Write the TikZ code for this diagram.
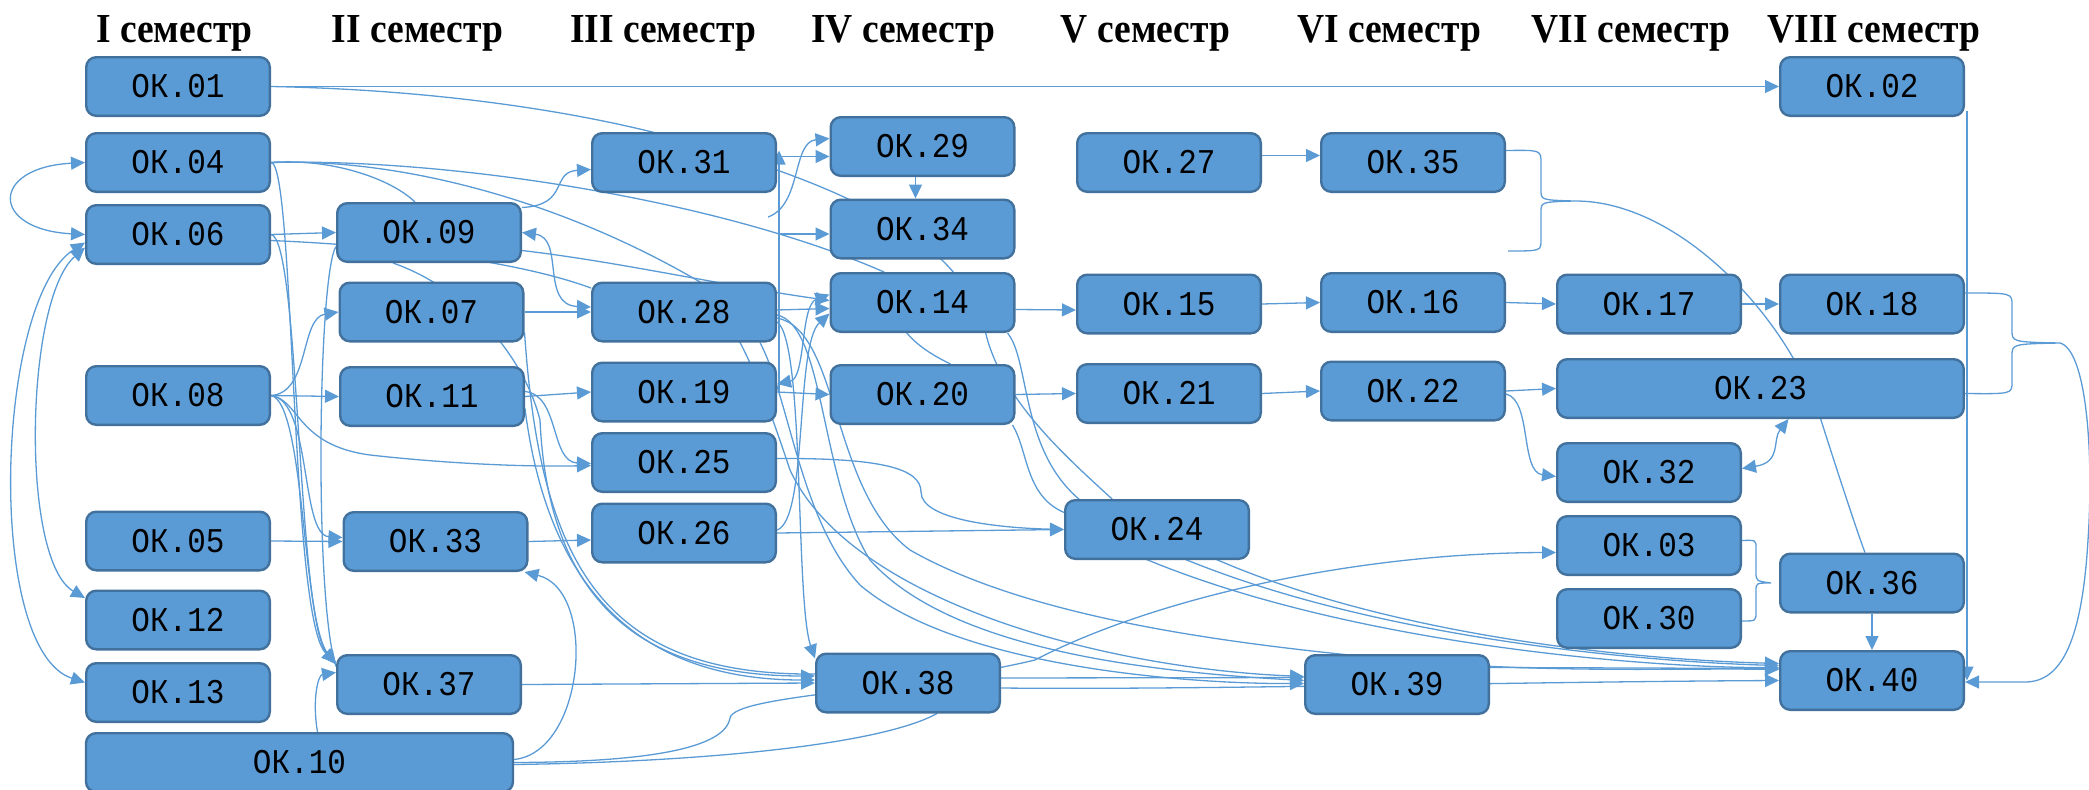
\documentclass[tikz,border=0pt]{standalone}
\usepackage{fontspec}
\setmainfont{Liberation Serif}
\newfontfamily\okmono{Liberation Mono}
\usetikzlibrary{arrows.meta}
\definecolor{okfill}{HTML}{5B9BD5}
\definecolor{okedge}{HTML}{41719C}
\definecolor{okline}{HTML}{5B9BD5}
\pgfdeclarelayer{bg}
\pgfsetlayers{bg,main}
\newcommand{\ok}[1]{\scalebox{1}[1.12]{ОК.#1}}
\newcommand{\sem}[1]{\scalebox{1}[1.1]{#1 семестр}}
\tikzset{
  okbox/.style={draw=okedge,line width=2.4pt,fill=okfill,rounded corners=10pt,
    minimum width=183.6pt,minimum height=58.6pt,inner sep=0pt,
    font=\okmono\fontsize{31}{36}\selectfont},
  semhead/.style={anchor=base,inner sep=0pt,font=\bfseries\fontsize{37.5}{45}\selectfont},
  ln/.style={draw=okline,line width=1.3pt},
  ar/.style={ln,-{Triangle[length=14pt,width=13pt]}},
  dar/.style={ln,{Triangle[length=14pt,width=13pt]}-{Triangle[length=14pt,width=13pt]}},
}
\begin{document}
\begin{tikzpicture}[x=1pt,y=-1pt]
  \useasboundingbox (0,0) rectangle (2089,790);
  % semesters
  \node[semhead] (s1) at (174.5,42) {\sem{I}};
  \node[semhead] (s2) at (417.5,42) {\sem{II}};
  \node[semhead] (s3) at (663,42) {\sem{III}};
  \node[semhead] (s4) at (903,42) {\sem{IV}};
  \node[semhead] (s5) at (1145.5,42) {\sem{V}};
  \node[semhead] (s6) at (1389,42) {\sem{VI}};
  \node[semhead] (s7) at (1631,42) {\sem{VII}};
  \node[semhead] (s8) at (1874,42) {\sem{VIII}};
  % I
  \node[okbox] (ok01) at (178,86.5) {\ok{01}};
  \node[okbox] (ok04) at (178,162.5) {\ok{04}};
  \node[okbox] (ok06) at (178,234.5) {\ok{06}};
  \node[okbox] (ok08) at (178,395.5) {\ok{08}};
  \node[okbox] (ok05) at (178,541) {\ok{05}};
  \node[okbox] (ok12) at (178,620) {\ok{12}};
  \node[okbox] (ok13) at (178,692.5) {\ok{13}};
  \node[okbox,minimum width=427pt] (ok10) at (299.5,762.5) {\ok{10}};
  % II
  \node[okbox] (ok09) at (429,232.5) {\ok{09}};
  \node[okbox] (ok07) at (431.5,312) {\ok{07}};
  \node[okbox] (ok11) at (432,396.5) {\ok{11}};
  \node[okbox] (ok33) at (435.5,541.5) {\ok{33}};
  \node[okbox] (ok37) at (429,684.5) {\ok{37}};
  % III
  \node[okbox] (ok31) at (684,162.5) {\ok{31}};
  \node[okbox] (ok28) at (684,312) {\ok{28}};
  \node[okbox] (ok19) at (684,392) {\ok{19}};
  \node[okbox] (ok25) at (684,462.5) {\ok{25}};
  \node[okbox] (ok26) at (684,533) {\ok{26}};
  % IV
  \node[okbox] (ok29) at (922.5,146.5) {\ok{29}};
  \node[okbox] (ok34) at (922.5,229) {\ok{34}};
  \node[okbox] (ok14) at (922.5,302.5) {\ok{14}};
  \node[okbox] (ok20) at (922.5,394.5) {\ok{20}};
  \node[okbox] (ok38) at (908,683) {\ok{38}};
  % V
  \node[okbox] (ok27) at (1169,162.5) {\ok{27}};
  \node[okbox] (ok15) at (1169,304) {\ok{15}};
  \node[okbox] (ok21) at (1169,393.5) {\ok{21}};
  \node[okbox] (ok24) at (1157,529.5) {\ok{24}};
  % VI
  \node[okbox] (ok35) at (1413,162.5) {\ok{35}};
  \node[okbox] (ok16) at (1413,302.5) {\ok{16}};
  \node[okbox] (ok22) at (1413,391) {\ok{22}};
  \node[okbox] (ok39) at (1397,684.5) {\ok{39}};
  % VII
  \node[okbox] (ok17) at (1649,304) {\ok{17}};
  \node[okbox,minimum width=406.5pt] (ok23) at (1760.5,388.5) {\ok{23}};
  \node[okbox] (ok32) at (1649,472.5) {\ok{32}};
  \node[okbox] (ok03) at (1649,545.5) {\ok{03}};
  \node[okbox] (ok30) at (1649,618.5) {\ok{30}};
  % VIII
  \node[okbox] (ok02) at (1872,86.5) {\ok{02}};
  \node[okbox] (ok18) at (1872,304) {\ok{18}};
  \node[okbox] (ok36) at (1872,583) {\ok{36}};
  \node[okbox] (ok40) at (1872,680.5) {\ok{40}};

  \begin{pgfonlayer}{bg}
  % straight links
  \draw[ar] (ok01.east) -- (ok02.west);
  \draw[ar] (ok06.east) -- (ok09.west);
  \draw[ar] (ok08.east) -- (ok11.west);
  \draw[ar] (ok05.east) -- (ok33.west);
  \draw[ar] (ok07.east) -- (ok28.west);
  \draw[ar] (ok11.east) -- (ok19.west);
  \draw[ar] (ok33.east) -- ([yshift=-7]ok26.west);
  \draw[ar] (ok37.east) -- (ok38.west);
  \draw[ar] (ok19.east) -- (ok20.west);
  \draw[ar] ([yshift=-7]ok14.east) -- ([yshift=-6]ok15.west);
  \draw[ar] (ok15.east) -- (ok16.west);
  \draw[ar] (ok16.east) -- (ok17.west);
  \draw[ar] (ok17.east) -- (ok18.west);
  \draw[ar] (ok20.east) -- (ok21.west);
  \draw[ar] (ok21.east) -- (ok22.west);
  \draw[ar] (ok22.east) -- (ok23.west);
  \draw[ar] ([yshift=7]ok27.east) -- ([yshift=7]ok35.west);
  \draw[ar] ([xshift=-7]ok29.south) -- ([xshift=-7]ok34.north);
  \draw[ar] (ok36.south) -- (ok40.north);
  \draw[ar] (ok26.east) -- (ok24.west);
  \draw[ar] ([yshift=5]ok38.east) -- ([yshift=7]ok39.west);
  \draw[ar] ([yshift=17]ok39.east) -- ([yshift=12]ok40.west);
  \draw[ar] ([xshift=2,yshift=6]ok02.south east) -- ([xshift=2]ok40.east);
  \draw[ar] ([xshift=2]ok19.east) |- ([yshift=-10]ok29.west);
  \draw[ar] ([xshift=2]ok19.east) |- ([yshift=-5]ok34.west);
  \draw[ar] ([xshift=2]ok19.east) -- ([xshift=2,yshift=12]ok31.east);
  % first semester loops
  \draw[dar] (ok04.west) .. controls +(-95,5) and +(-95,-5) .. (ok06.west);
  \draw[dar] ([yshift=-8]ok06.west) .. controls (-5,300) and (-15,650) .. ([yshift=10]ok13.west);
  \draw[dar] ([yshift=-13]ok06.west) .. controls (25,300) and (20,560) .. ([yshift=22]ok12.west);
  % from I to II, III
  \draw[ar] (ok08.east) .. controls (310,393) and (300,318) .. (ok07.west);
  \draw[ar] (ok08.east) .. controls (312,400) and (300,535) .. ([yshift=4]ok33.west);
  \draw[ar] (ok08.east) .. controls (300,400) and (296,445) .. (370,455)
    .. controls (450,464) and (530,467) .. ([yshift=-3]ok25.west);
  \draw[ar] (ok08.east) .. controls (305,402) and (302,620) .. ([yshift=20]ok37.west);
  \draw[ar] (ok04.east) .. controls (295,162) and (290,620) .. ([yshift=22]ok37.west);
  \draw[ar] (ok06.east) .. controls (300,238) and (297,620) .. ([yshift=21]ok37.west);
  \draw[ln] ([yshift=-14]ok09.west) .. controls (318,275) and (314,600) .. ([yshift=18]ok37.west);
  \draw[ar] ([xshift=18]ok10.north) .. controls (312,700) and (318,675) .. ([yshift=12]ok37.west);
  \draw[ln] (ok04.east) .. controls (330,158) and (390,178) .. ([xshift=-14]ok09.north);
  \draw[ln] ([yshift=-6]ok06.east) .. controls (400,246) and (520,262) .. ([yshift=24]ok28.west);
  \draw[ln] (ok04.east) .. controls (450,158) and (720,200) .. (884,272)
    .. controls (900,300) and (880,330) .. ([xshift=28]ok20.north);
  \draw[ar] (ok04.east) .. controls (400,158) and (560,200) .. (700,282)
    .. controls (740,330) and (760,380) .. (790,470)
    .. controls (850,600) and (1100,668) .. ([yshift=8]ok39.west);
  \draw[ar] (ok01.east) .. controls (450,90) and (600,115) .. (700,145)
    .. controls (850,190) and (960,240) .. (985,330)
    .. controls (1000,400) and (1070,460) .. (1112,499)
    .. controls (1150,530) and (1190,545) .. (1213,558)
    .. controls (1400,640) and (1650,660) .. ([yshift=17]ok40.west);
  % from II
  \draw[ar] ([yshift=25]ok09.east) .. controls (570,205) and (550,172) .. ([yshift=-7]ok31.west);
  \draw[dar] (ok09.east) .. controls (565,238) and (540,305) .. ([yshift=5]ok28.west);
  \draw[ar] ([yshift=-18]ok09.east) .. controls (620,262) and (720,285) .. ([yshift=2]ok14.west);
  \draw[ar] ([xshift=-36]ok09.south) .. controls (470,290) and (525,360) .. (540,420)
    .. controls (548,600) and (640,676) .. ([yshift=7]ok38.west);
  \draw[ln] ([yshift=-20]ok07.east) .. controls (540,560) and (600,676) .. ([yshift=9]ok38.west);
  \draw[ar] ([yshift=-12]ok11.east) .. controls (548,590) and (640,680) .. ([yshift=3]ok38.west);
  \draw[ar] ([yshift=5]ok11.east) .. controls (560,395) and (550,462) .. ([yshift=-1]ok25.west);
  \draw[ar] ([yshift=3]ok10.east) .. controls (585,752) and (598,590) .. ([xshift=-4]ok33.south east);
  \draw[ar] (ok10.east) .. controls (650,762) and (725,748) .. (730,718)
    .. controls (735,695) and (900,692) .. (1035,660)
    .. controls (1150,600) and (1350,553) .. ([yshift=-7]ok03.west);
  \draw[ln] ([yshift=-2]ok10.east) .. controls (700,762) and (880,745) .. ([xshift=29]ok38.south);
  % from III
  \coordinate (k29) at (768,217);
  \draw[ar] (k29) .. controls (802,205) and (792,142) .. ([yshift=8]ok29.west);
  \draw[dar] ([yshift=8]ok19.east) .. controls (806,378) and (800,305) .. ([yshift=8]ok14.west);
  \draw[ar] ([yshift=2]ok28.east) -- ([yshift=-6]ok14.west);
  \draw[ar] ([yshift=3]ok26.east) .. controls (808,520) and (795,345) .. ([yshift=-11]ok14.west);
  \draw[ar] ([yshift=-10]ok28.east) .. controls (805,340) and (795,600) .. ([yshift=-6]ok38.north west);
  \draw[ar] ([yshift=-3]ok28.east) .. controls (825,325) and (820,480) .. (870,560)
    .. controls (950,650) and (1150,672) .. ([yshift=4]ok39.west);
  \draw[ar] ([xshift=76]ok28.south) .. controls (790,400) and (800,520) .. (860,585)
    .. controls (960,670) and (1200,684) .. ([yshift=1]ok39.west);
  \draw[ar] ([yshift=-6]ok28.east) .. controls (840,330) and (830,490) .. (910,550)
    .. controls (1050,630) and (1300,650) .. (1420,662)
    .. controls (1560,673) and (1680,668) .. ([yshift=11]ok40.west);
  \draw[ar] ([yshift=4]ok25.east) .. controls (880,458) and (921,468) .. (921,492)
    .. controls (921,520) and (1000,528) .. (ok24.west);
  % from IV
  \draw[ar] ([xshift=-8]ok14.south east) .. controls (1030,360) and (1020,450) .. (1080,500)
    .. controls (1120,530) and (1160,548) .. (1182,558)
    .. controls (1380,640) and (1650,662) .. ([yshift=15]ok40.west);
  \draw[ar] ([xshift=-3]ok20.south east) .. controls (1028,450) and (1025,495) .. (1063,512)
    .. controls (1100,530) and (1120,548) .. (1143,558)
    .. controls (1350,645) and (1650,668) .. ([yshift=13]ok40.west);
  \draw[ar] ([yshift=-5]ok38.east) .. controls (1200,690) and (1500,682) .. (ok40.west);
  % from VI, VII
  \draw[ar] ([yshift=-3]ok22.east) .. controls (1532,400) and (1520,472) .. ([yshift=-4]ok32.west);
  \draw[dar] ([xshift=28]ok23.south) .. controls (1772,440) and (1782,462) .. ([yshift=4]ok32.east);
  % braces
  \coordinate (t35) at (1574,201);
  \coordinate (e35) at (1508,251);
  \draw[ln] ([yshift=12]ok35.east) .. controls (1541,150) .. (1541,163) -- (1541,190)
    .. controls (1541,200) .. (t35) .. controls (1541,202) .. (1541,212) -- (1541,240)
    .. controls (1541,251) .. (e35);
  \draw[ln] (t35) .. controls (1680,200) and (1790,320) .. (1821,420)
    .. controls (1840,480) and (1860,540) .. ([xshift=-7]ok36.north);
  \coordinate (t18) at (2060,343);
  \draw[ln] ([yshift=11]ok18.east) .. controls (2012,293) .. (2012,305) -- (2012,330)
    .. controls (2012,342) .. (t18) .. controls (2012,344) .. (2012,356) -- (2012,382)
    .. controls (2012,394) .. ([yshift=-5]ok23.east);
  \draw[ar] (t18) .. controls (2086,350) and (2094,450) .. (2088,540)
    .. controls (2082,640) and (2062,682) .. (2025,682) -- ([yshift=-1.5]ok40.east);
  \draw[ln] ([yshift=5]ok03.east) .. controls (1756,540) .. (1756,548) -- (1756,572)
    .. controls (1756,581) .. ([xshift=-8]ok36.west) .. controls (1756,583) .. (1756,591)
    -- (1756,612) .. controls (1756,621) .. ([yshift=-2.5]ok30.east);
  \end{pgfonlayer}
\end{tikzpicture}
\end{document}
